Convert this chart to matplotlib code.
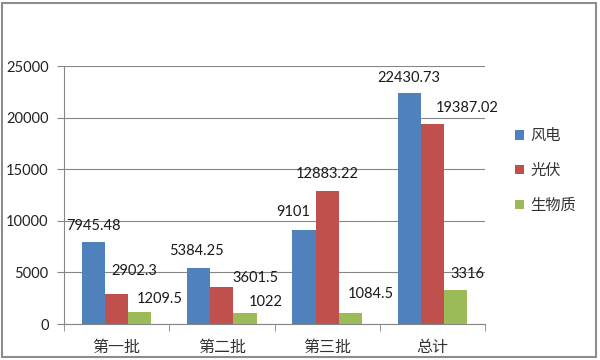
import numpy as np
import matplotlib.pyplot as plt
from matplotlib.patches import Rectangle

plt.rcParams['font.family'] = ['Lato', 'Noto Sans CJK SC', 'DejaVu Sans']

# Data
categories = ['第一批', '第二批', '第三批', '总计']
series_names = ['风电', '光伏', '生物质']
wind = [7945.48, 5384.25, 9101, 22430.73]
solar = [2902.3, 3601.5, 12883.22, 19387.02]
biomass = [1209.5, 1022, 1084.5, 3316]
y_ticks = [0, 5000, 10000, 15000, 20000, 25000]

colors = ['#4F81BD', '#C0504D', '#9BBB59']
# label offsets in pixels (dx, dy) from the top centre of each bar
label_offsets = [
    [(0, 16), (-2, 17), (-11, 18), (0, 15)],
    [(18, 23), (34, 9), (0, 17), (35, 16)],
    [(20, 13), (21, 11), (21, 19), (12, 16)],
]

fig = plt.figure(figsize=(6, 3.6), dpi=100)
ax = fig.add_axes([64 / 600, 36 / 360, 421 / 600, 258 / 360])

x = np.arange(len(categories))
w = 0.22
for i, (name, vals) in enumerate(zip(series_names, [wind, solar, biomass])):
    pos = x + (i - 1) * w
    ax.bar(pos, vals, width=w, color=colors[i], label=name, zorder=3)
    for j, (px, v) in enumerate(zip(pos, vals)):
        txt = ('%.2f' % v).rstrip('0').rstrip('.')
        dx, dy = label_offsets[i][j]
        ax.annotate(txt, xy=(px, v), xytext=(dx, dy), textcoords='offset pixels',
                    ha='center', va='center', fontsize=10.5, color='#1a1a1a', zorder=4)

ax.set_xlim(-0.5, len(categories) - 0.5)
ax.set_ylim(0, 25000)
ax.set_yticks(y_ticks)
ax.set_xticks(x)
ax.set_xticklabels(categories, fontsize=11.5, color='#333333')
ax.set_xticks(np.arange(-0.5, len(categories), 1), minor=True)
ax.tick_params(axis='x', which='major', length=0, pad=12)
ax.tick_params(axis='x', which='minor', length=5, color='#868686')
ax.tick_params(axis='y', length=5, color='#868686', labelsize=10.5, labelcolor='#222222', pad=6)
ax.yaxis.grid(True, color='#868686', lw=0.8, zorder=0)

for s in ['top', 'right']:
    ax.spines[s].set_visible(False)
for s in ['left', 'bottom']:
    ax.spines[s].set_color('#868686')
    ax.spines[s].set_linewidth(0.8)

leg = fig.legend(loc='center left', bbox_to_anchor=(515 / 600, 1 - 171 / 360),
                 frameon=False, fontsize=11, labelspacing=1.35,
                 handlelength=0.6, handleheight=0.6, handletextpad=0.4,
                 borderpad=0, borderaxespad=0)
for t in leg.get_texts():
    t.set_color('#333333')

# outer chart border
fig.patches.append(Rectangle((2 / 600, 3 / 360), 594 / 600, 354 / 360,
                             transform=fig.transFigure, fill=False,
                             edgecolor='#8c8c8c', lw=1.5))

plt.savefig('out.png', dpi=100)
